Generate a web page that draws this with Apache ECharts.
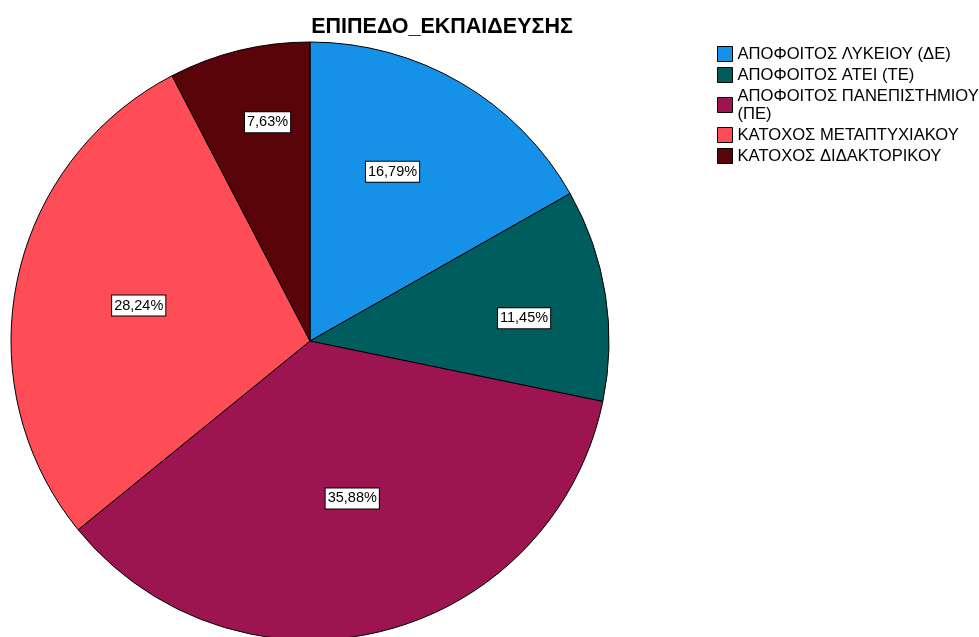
<!DOCTYPE html>
<html>
<head>
<meta charset="utf-8">
<script src="https://cdn.jsdelivr.net/npm/echarts@6/dist/echarts.min.js"></script>
<style>
  html, body { margin: 0; padding: 0; background: #ffffff; }
  #chart { width: 979px; height: 637px; }
</style>
</head>
<body>
<div id="chart"></div>
<script>
// Education level breakdown (percent of respondents)
const categories = [
  'ΑΠΟΦΟΙΤΟΣ ΛΥΚΕΙΟΥ (ΔΕ)',
  'ΑΠΟΦΟΙΤΟΣ ΑΤΕΙ (ΤΕ)',
  'ΑΠΟΦΟΙΤΟΣ ΠΑΝΕΠΙΣΤΗΜΙΟΥ (ΠΕ)',
  'ΚΑΤΟΧΟΣ ΜΕΤΑΠΤΥΧΙΑΚΟΥ',
  'ΚΑΤΟΧΟΣ ΔΙΔΑΚΤΟΡΙΚΟΥ'
];
const percentages = [16.79, 11.45, 35.88, 28.24, 7.63];
const sliceColors = ['#1591e8', '#005d5d', '#9d1550', '#fe4d56', '#590409'];
const chartTitle = 'ΕΠΙΠΕΔΟ_ΕΚΠΑΙΔΕΥΣΗΣ';

// Label placement inside each slice: t = position across the slice's arc
// (0 = leading edge, 1 = trailing edge), r = fraction of the pie radius.
const labelPlacement = [
  { t: 0.43, r: 0.63 },
  { t: 0.57, r: 0.72 },
  { t: 0.49, r: 0.545 },
  { t: 0.50, r: 0.585 },
  { t: 0.60, r: 0.745 }
];

const CX = 310, CY = 341, R = 299;
const FONT = '"Liberation Sans", Arial, sans-serif';
const total = percentages.reduce((a, b) => a + b, 0);
const startFrac = percentages.map((v, i) =>
  percentages.slice(0, i).reduce((a, b) => a + b, 0) / total);

const chart = echarts.init(document.getElementById('chart'), null, { renderer: 'canvas' });

const data = categories.map((name, i) => ({
  name: name,
  value: percentages[i],
  itemStyle: { color: sliceColors[i] }
}));

chart.setOption({
  animation: false,
  backgroundColor: '#ffffff',
  title: {
    text: chartTitle,
    left: 437,
    top: 11,
    textAlign: 'center',
    textStyle: { fontFamily: FONT, fontSize: 21.5, fontWeight: 'bold', color: '#000' }
  },
  legend: {
    orient: 'vertical',
    left: 712,
    top: 40,
    itemWidth: 15,
    itemHeight: 15,
    itemGap: 3,
    icon: 'rect',
    itemStyle: { borderColor: '#000', borderWidth: 1 },
    formatter: function (name) {
      if (name.length > 24) {
        const k = name.lastIndexOf(' ');
        return name.slice(0, k) + '\n' + name.slice(k + 1);
      }
      return name;
    },
    textStyle: {
      fontFamily: FONT, fontSize: 16.6, color: '#000', lineHeight: 18
    },
    data: categories
  },
  series: [{
    type: 'pie',
    center: [CX, CY],
    radius: R,
    startAngle: 90,
    clockwise: true,
    silent: true,
    itemStyle: { borderColor: '#000', borderWidth: 1 },
    label: {
      show: true,
      position: 'inside',
      formatter: p => p.value.toFixed(2).replace('.', ',') + '%',
      fontFamily: FONT,
      fontSize: 14.5,
      color: '#000',
      backgroundColor: '#ffffff',
      borderColor: '#000',
      borderWidth: 1,
      padding: [3, 2, 2, 2],
      align: 'center',
      verticalAlign: 'middle'
    },
    labelLine: { show: false },
    labelLayout: function (p) {
      const i = p.dataIndex;
      const frac = startFrac[i] + labelPlacement[i].t * percentages[i] / total;
      const ang = frac * 2 * Math.PI;
      const d = labelPlacement[i].r * R;
      return {
        x: CX + d * Math.sin(ang),
        y: CY - d * Math.cos(ang),
        align: 'center',
        verticalAlign: 'middle'
      };
    },
    data: data
  }]
});
</script>
</body>
</html>
